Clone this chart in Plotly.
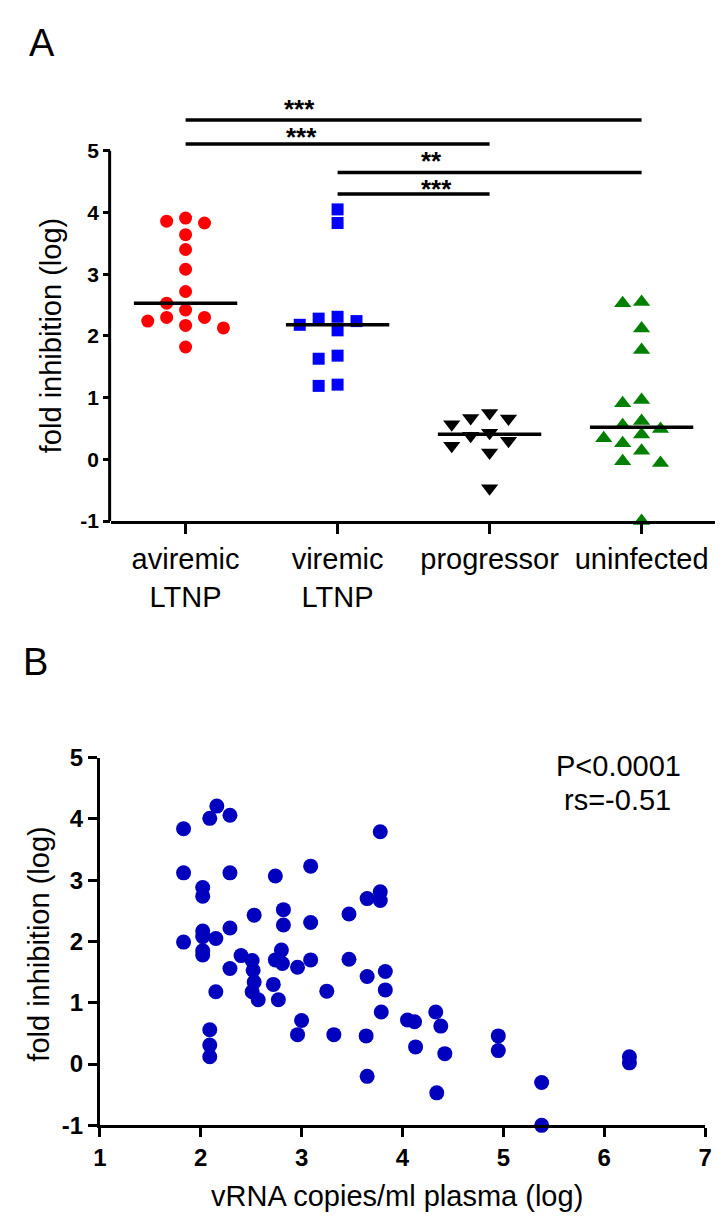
import numpy as np
import plotly.graph_objects as go

# ---------------- data ----------------
categories = ["aviremic<br>LTNP", "viremic<br>LTNP", "progressor", "uninfected"]
aviremic_ltnp = [3.86, 3.83, 3.91, 3.64, 3.40, 3.08, 2.72, 2.53, 2.42, 2.30, 2.17, 2.13, 2.24, 2.30, 1.82]
viremic_ltnp = [4.05, 3.83, 2.31, 2.24, 2.09, 2.18, 2.28, 1.68, 1.63, 1.19, 1.21]
progressor = [0.38, 0.66, 0.75, 0.43, 0.57, 0.67, 0.30, 0.22, 0.11, -0.47]
uninfected = [2.55, 2.53, 2.12, 1.77, 0.91, 0.96, 0.55, 0.62, 0.49, 0.40, 0.34, 0.26, 0.14, -0.03, -0.06, -1.00]

# significance comparisons (group i, group j, label)
sig_pairs = [(0, 3, "***"), (0, 2, "***"), (1, 3, "**"), (1, 2, "***")]

vrna_log = [2.16, 2.09, 2.29, 1.83, 3.78, 1.83, 2.29, 2.74, 3.09, 2.02, 2.02, 3.65, 3.78, 3.78,
            2.53, 2.82, 2.82, 3.09, 3.47, 2.02, 2.02, 2.02, 2.02, 1.83, 2.15, 2.29, 2.40, 2.51,
            2.80, 2.74, 2.81, 3.09, 2.96, 3.47, 2.29, 2.52, 2.53, 2.72, 2.51, 2.57, 2.77, 2.15,
            3.25, 3.65, 3.83, 3.83, 3.79, 3.00, 2.96, 3.32, 3.64, 2.09, 2.09, 2.09, 4.05, 4.12,
            4.33, 4.38, 4.13, 4.42, 4.34, 3.65, 4.95, 4.95, 5.38, 5.38, 6.25, 6.25]
fold_inhib_log = [4.21, 4.01, 4.06, 3.84, 3.79, 3.12, 3.12, 3.07, 3.23, 2.88, 2.74, 2.70, 2.81, 2.67,
                  2.43, 2.52, 2.27, 2.31, 2.45, 2.17, 2.08, 1.85, 1.78, 1.99, 2.05, 2.22, 1.77, 1.69,
                  1.86, 1.70, 1.64, 1.70, 1.58, 1.71, 1.56, 1.53, 1.34, 1.30, 1.18, 1.05, 1.05, 1.18,
                  1.19, 1.43, 1.51, 1.21, 0.85, 0.71, 0.48, 0.48, 0.46, 0.56, 0.31, 0.12, 0.72, 0.69,
                  0.85, 0.62, 0.28, 0.17, -0.47, -0.20, 0.46, 0.22, -0.30, -1.00, 0.12, 0.02]

y_ticks = [-1, 0, 1, 2, 3, 4, 5]
x_ticks_b = [1, 2, 3, 4, 5, 6, 7]

# ---------------- layout constants ----------------
W, H = 723, 1221
FONT = "Liberation Sans, Arial, sans-serif"

# panel A geometry (pixels)
A_left, A_right = 98.0, 718.0
A_xrange = [-0.49, 3.51]
A_yrange = [-1.0, 5.6]
A_ybot, A_unit = 510.3, 63.1
A_ytop = A_ybot - (A_yrange[1] - A_yrange[0]) * A_unit
A_cat_px = (A_right - A_left) / (A_xrange[1] - A_xrange[0])

# panel B geometry (pixels)
B_left, B_right = 86.5, 703.7
B_ybot, B_ytop = 1128.3, 752.3

sig_levels = [5.50, 5.11, 4.65, 4.30]
sig_text_x = [0.75, 0.76, 1.62, 1.65]
sig_text_shift = [11, 7, 11, 5]


def swarm(vals, unit_px, col_px, min_px):
    """Deterministic column beeswarm: offsets (category units) for each value."""
    vals = np.asarray(vals, dtype=float)
    order = np.argsort(-vals, kind="stable")
    placed = []
    offs = np.zeros(len(vals))
    for i in order:
        py = vals[i] * unit_px
        k = 0
        done = False
        while not done:
            for c in ([0] if k == 0 else [-k, k]):
                if all(not (pc == c and abs(pp - py) < min_px) for pc, pp in placed):
                    placed.append((c, py))
                    offs[i] = c * col_px / A_cat_px
                    done = True
                    break
            k += 1
    return offs


groups = [aviremic_ltnp, viremic_ltnp, progressor, uninfected]
styles = [
    dict(symbol="circle", color="#FF0000", size=13),
    dict(symbol="square", color="#0000FF", size=12),
    dict(symbol="triangle-down", color="#000000", size=15),
    dict(symbol="triangle-up", color="#008000", size=15),
]

fig = go.Figure()

for gi, (vals, st) in enumerate(zip(groups, styles)):
    offs = swarm(vals, A_unit, 19.3, 13.5)
    fig.add_trace(go.Scatter(
        x=gi + offs, y=vals, mode="markers", xaxis="x", yaxis="y",
        marker=dict(symbol=st["symbol"], color=st["color"], size=st["size"], line=dict(width=0)),
        cliponaxis=False, showlegend=False, hoverinfo="skip"))

for gi, vals in enumerate(groups):
    med = float(np.median(vals))
    fig.add_trace(go.Scatter(
        x=[gi - 0.34, gi + 0.34], y=[med, med], mode="lines", xaxis="x", yaxis="y",
        line=dict(color="black", width=3.5), showlegend=False, hoverinfo="skip"))

fig.add_trace(go.Scatter(
    x=vrna_log, y=fold_inhib_log, mode="markers", xaxis="x2", yaxis="y2",
    marker=dict(symbol="circle", color="#0000BE", size=15, line=dict(width=0)),
    cliponaxis=False, showlegend=False, hoverinfo="skip"))

shapes = []
annotations = []

# significance bars
for (i, j, lab), lvl, tx, ts in zip(sig_pairs, sig_levels, sig_text_x, sig_text_shift):
    shapes.append(dict(type="line", xref="x", yref="y", x0=i, x1=j, y0=lvl, y1=lvl,
                       line=dict(color="black", width=3.5), layer="above"))
    annotations.append(dict(x=tx, y=lvl, xref="x", yref="y", text=lab, showarrow=False,
                            yanchor="middle", yshift=ts,
                            font=dict(family=FONT, size=26, color="black", weight="bold")))

# panel A y axis line (only -1..5)
shapes.append(dict(type="line", xref="paper", yref="y", x0=(A_left - 1.5) / W, x1=(A_left - 1.5) / W,
                   y0=-1, y1=5, line=dict(color="black", width=3)))

# panel labels and titles
annotations += [
    dict(x=27.5 / W, y=1 - 21 / H, xref="paper", yref="paper", text="A", showarrow=False,
         xanchor="center", yanchor="middle", font=dict(family=FONT, size=38, color="black")),
    dict(x=20.8 / W, y=1 - 654 / H, xref="paper", yref="paper", text="B", showarrow=False,
         xanchor="center", yanchor="middle", font=dict(family=FONT, size=38, color="black")),
    dict(x=37 / W, y=1 - 321 / H, xref="paper", yref="paper", text="fold inhibition (log)",
         showarrow=False, textangle=-90, xanchor="center", yanchor="middle",
         font=dict(family=FONT, size=29, color="black")),
    dict(x=25 / W, y=1 - 943 / H, xref="paper", yref="paper", text="fold inhibition (log)",
         showarrow=False, textangle=-90, xanchor="center", yanchor="middle",
         font=dict(family=FONT, size=29, color="black")),
    dict(x=390 / W, y=1 - 1201 / H, xref="paper", yref="paper", text="vRNA copies/ml plasma (log)",
         showarrow=False, xanchor="center", yanchor="middle",
         font=dict(family=FONT, size=29, color="black")),
    dict(x=615 / W, y=1 - 761 / H, xref="paper", yref="paper", text="P<0.0001",
         showarrow=False, xanchor="center", yanchor="middle",
         font=dict(family=FONT, size=29, color="black")),
    dict(x=614 / W, y=1 - 796 / H, xref="paper", yref="paper", text="rs=-0.51",
         showarrow=False, xanchor="center", yanchor="middle",
         font=dict(family=FONT, size=29, color="black")),
]

tickfont_bold = dict(family=FONT, size=21, color="black", weight="bold")
tickfont_bold_b = dict(family=FONT, size=24, color="black", weight="bold")

fig.update_layout(
    width=W, height=H,
    margin=dict(l=0, r=0, t=0, b=0),
    paper_bgcolor="white", plot_bgcolor="white",
    showlegend=False,
    shapes=shapes, annotations=annotations,
    xaxis=dict(domain=[A_left / W, A_right / W], range=A_xrange, anchor="y",
               tickmode="array", tickvals=list(range(len(categories))), ticktext=categories,
               showline=True, linecolor="black", linewidth=3, ticks="outside", ticklen=10,
               tickwidth=3, tickcolor="black", showgrid=False, zeroline=False,
               tickfont=dict(family=FONT, size=29, color="black")),
    yaxis=dict(domain=[1 - A_ybot / H, 1 - A_ytop / H], range=A_yrange, anchor="x",
               tickmode="array", tickvals=y_ticks, ticktext=[str(v) for v in y_ticks],
               showline=False, ticks="outside", ticklen=7, tickwidth=3, tickcolor="black",
               showgrid=False, zeroline=False, tickfont=tickfont_bold),
    xaxis2=dict(domain=[B_left / W, B_right / W], range=[1, 7], anchor="y2",
                tickmode="array", tickvals=x_ticks_b, ticktext=[str(v) for v in x_ticks_b],
                showline=True, linecolor="black", linewidth=3, ticks="outside", ticklen=9,
                tickwidth=3, tickcolor="black", showgrid=False, zeroline=False,
                tickfont=tickfont_bold_b),
    yaxis2=dict(domain=[1 - B_ybot / H, 1 - B_ytop / H], range=[-1, 5], anchor="x2",
                tickmode="array", tickvals=y_ticks, ticktext=[str(v) for v in y_ticks],
                showline=True, linecolor="black", linewidth=3, ticks="outside", ticklen=9,
                tickwidth=3, tickcolor="black", showgrid=False, zeroline=False,
                tickfont=tickfont_bold_b),
)

fig.write_html("out.html")
